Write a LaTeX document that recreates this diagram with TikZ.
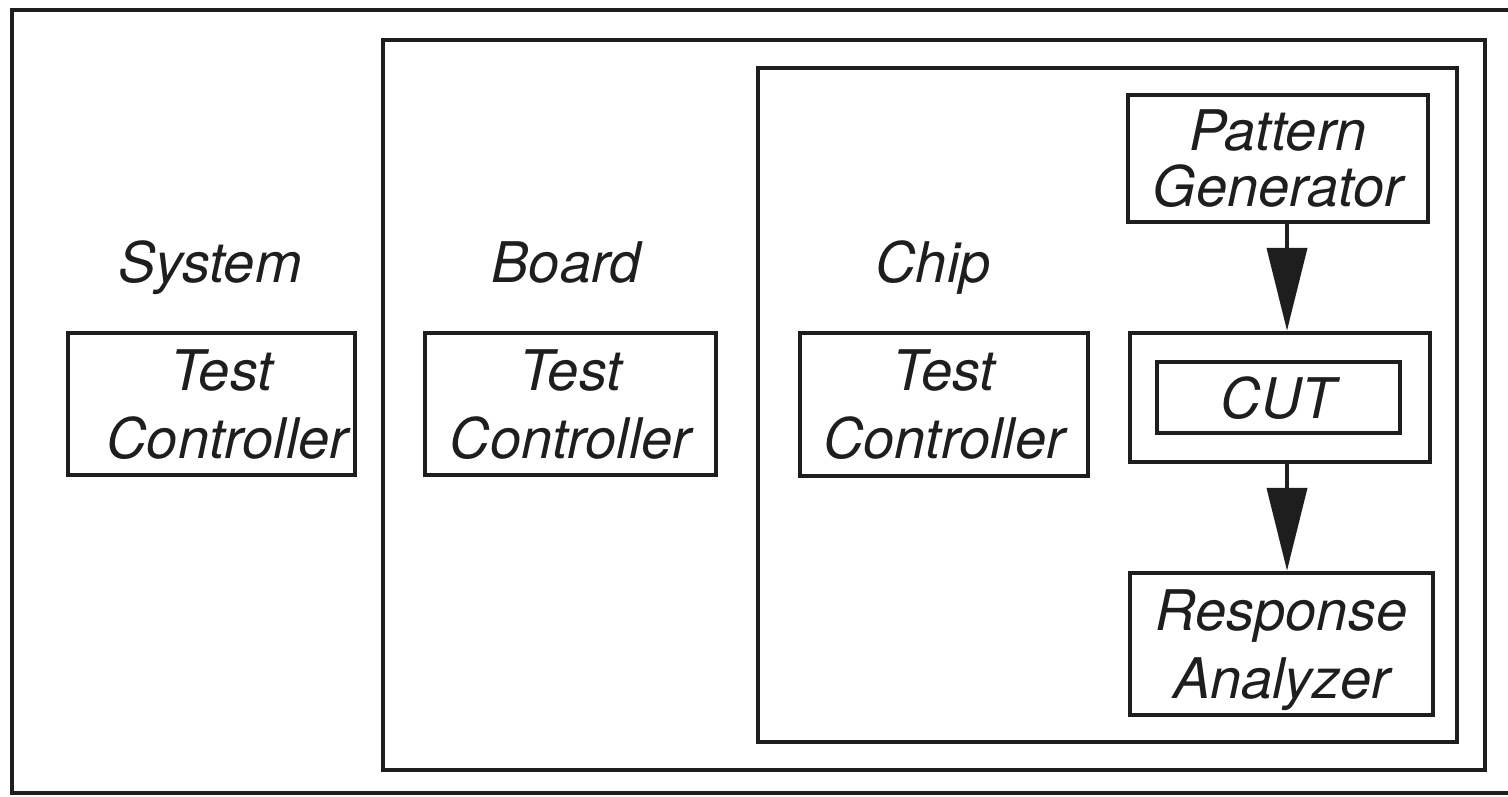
\documentclass[tikz,border=0pt]{standalone}
\usepackage{fontspec}
\setmainfont{TeX Gyre Heros}
\usetikzlibrary{arrows.meta}
\definecolor{ink}{RGB}{30,30,30}
\newcommand{\boxfont}{\fontsize{56}{68}\selectfont\itshape}
\newcommand{\tightfont}{\fontsize{56}{56}\selectfont\itshape}
\begin{document}
\begin{tikzpicture}[x=1pt,y=-1pt,
  frame/.style={draw=ink, line width=4.5pt},
  box/.style={draw=ink, line width=4.5pt, inner sep=0pt, align=center, font=\boxfont, text=ink, text depth=0pt},
  lbl/.style={font=\boxfont, text=ink, anchor=base, inner sep=0pt},
  flow/.style={draw=ink, line width=4pt, -{Triangle[length=83pt,width=40pt]}}]
\useasboundingbox (0,0) rectangle (1508,796);
% nested frames
\draw[frame] (12,10) rectangle (1522,793);
\draw[frame] (383,40) rectangle (1485,770);
\draw[frame] (758,68) rectangle (1457,742);
% level labels
\node[lbl] (lsys) at (210,282) {System};
\node[lbl] (lboard) at (566,282) {Board};
\node[lbl] (lchip) at (933,282) {Chip};
% test controllers
\node[box, minimum width=287pt, minimum height=142pt] (stc) at (211.5,404) {\hspace*{20pt}Test\\\hspace*{32pt}Controller};
\node[box, minimum width=291pt, minimum height=142pt] (btc) at (570.5,404) {Test\\Controller};
\node[box, minimum width=288pt, minimum height=143pt] (ctc) at (944,404.5) {Test\\Controller};
% BIST structure
\node[box, font=\tightfont, minimum width=300pt, minimum height=127pt] (pg) at (1278,158.5) {Pattern\\Generator};
\node[box, minimum width=300pt, minimum height=129pt] (cuto) at (1280,397.5) {};
\node[box, minimum width=243pt, minimum height=71pt] (cut) at (1278.5,397.5) {CUT};
\node[box, minimum width=303pt, minimum height=142pt] (ra) at (1281.5,644) {Response\\Analyzer};
\coordinate (ax) at (1287,0);
\draw[flow] (pg.south -| ax) -- (cuto.north -| ax);
\draw[flow] (cuto.south -| ax) -- (ra.north -| ax);
\end{tikzpicture}
\end{document}
